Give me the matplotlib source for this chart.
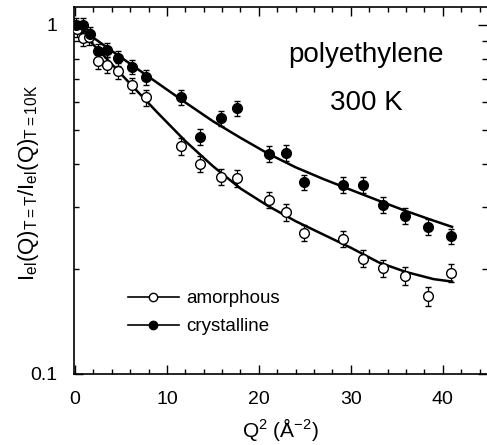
import matplotlib
matplotlib.use("Agg")
import matplotlib.pyplot as plt
from matplotlib.lines import Line2D
from matplotlib.ticker import FixedLocator, NullFormatter, MultipleLocator

plt.rcParams['font.family'] = ['Liberation Sans', 'DejaVu Sans']
plt.rcParams['mathtext.fontset'] = 'custom'
plt.rcParams['mathtext.rm'] = 'Liberation Sans'
plt.rcParams['mathtext.it'] = 'Liberation Sans'

# crystalline (filled)
q2_cry = [0.1, 0.9, 1.6, 2.5, 3.5, 4.7, 6.2, 7.7, 11.5, 13.6, 15.9, 17.6,
          21.1, 23.0, 24.9, 29.1, 31.3, 33.5, 35.9, 38.4, 40.9]
i_cry = [1.00, 1.00, 0.94, 0.84, 0.85, 0.805, 0.76, 0.71, 0.62, 0.477, 0.54, 0.577,
         0.427, 0.43, 0.354, 0.348, 0.349, 0.305, 0.284, 0.264, 0.248]
err_cry = [0.05, 0.05, 0.045, 0.04, 0.04, 0.04, 0.035, 0.035, 0.03, 0.025, 0.028, 0.03,
           0.022, 0.022, 0.018, 0.018, 0.018, 0.016, 0.015, 0.014, 0.013]

# amorphous (open)
q2_am = [0.2, 0.9, 1.5, 2.5, 3.5, 4.7, 6.2, 7.7, 11.5, 13.6, 15.9, 17.6,
         21.1, 23.0, 24.9, 29.1, 31.3, 33.5, 35.9, 38.4, 40.9]
i_am = [0.975, 0.92, 0.925, 0.79, 0.77, 0.74, 0.672, 0.62, 0.45, 0.40, 0.367, 0.364,
        0.315, 0.291, 0.254, 0.244, 0.214, 0.201, 0.191, 0.167, 0.195]
err_am = [0.05, 0.048, 0.048, 0.042, 0.04, 0.04, 0.035, 0.033, 0.025, 0.022, 0.02, 0.02,
          0.017, 0.016, 0.014, 0.013, 0.012, 0.011, 0.011, 0.01, 0.011]

# fitted curves
fit_q2_cry = [0.2, 4, 8, 12, 15, 18, 21, 24, 27, 30, 33, 36, 39, 41]
fit_i_cry = [0.995, 0.843, 0.711, 0.600, 0.530, 0.475, 0.428, 0.391, 0.362,
             0.337, 0.314, 0.293, 0.275, 0.264]
fit_q2_am = [0.2, 3, 6, 9, 12, 15, 18, 21, 24, 27, 30, 33, 36, 39, 41]
fit_i_am = [0.985, 0.824, 0.679, 0.560, 0.465, 0.394, 0.340, 0.303, 0.274,
            0.251, 0.230, 0.209, 0.196, 0.187, 0.184]

fig = plt.figure(figsize=(4.87, 4.45), dpi=100)
ax = fig.add_axes([74/487, 71/445, 413/487, 367/445])

ax.plot(fit_q2_cry, fit_i_cry, color='black', lw=1.8, zorder=2)
ax.plot(fit_q2_am, fit_i_am, color='black', lw=1.8, zorder=2)

ax.errorbar(q2_am, i_am, yerr=err_am, fmt='o', mfc='white', mec='black', ms=7,
            mew=1.0, ecolor='black', elinewidth=0.9, capsize=2.5, capthick=0.9, zorder=3)
ax.errorbar(q2_cry, i_cry, yerr=err_cry, fmt='o', mfc='black', mec='black', ms=7,
            mew=1.0, ecolor='black', elinewidth=0.9, capsize=2.5, capthick=0.9, zorder=3)

ax.set_yscale('log')
ax.set_xlim(-0.1, 44.8)
ax.set_ylim(0.1, 1.126)

ax.xaxis.set_major_locator(MultipleLocator(10))
ax.xaxis.set_minor_locator(MultipleLocator(2))
ax.yaxis.set_major_locator(FixedLocator([0.1, 1]))
ax.yaxis.set_minor_locator(FixedLocator([0.2, 0.3, 0.4, 0.5, 0.6, 0.7, 0.8, 0.9]))
ax.set_yticklabels(['0.1', '1'])
ax.yaxis.set_minor_formatter(NullFormatter())

ax.tick_params(which='both', direction='in', top=True, right=True, labelsize=14, width=1)
ax.tick_params(which='major', length=6.5, pad=12)
ax.tick_params(which='minor', length=3.5)
ax.spines['right'].set_visible(False)
for s in ['left', 'bottom', 'top']:
    ax.spines[s].set_linewidth(1.2)

ax.set_xlabel(r'Q$^{\mathregular{2}}$ (Å$^{\mathregular{-2}}$)', fontsize=15, labelpad=6)
ax.set_ylabel(r'$\mathregular{I_{el}(Q)_{T=T}/I_{el}(Q)_{T=10K}}$', fontsize=16)
ax.yaxis.set_label_coords(-0.08, 0.52)

ax.text(0.707, 0.85, 'polyethylene', transform=ax.transAxes, ha='center',
        va='baseline', fontsize=20)
ax.text(0.707, 0.719, '300 K', transform=ax.transAxes, ha='center',
        va='baseline', fontsize=20)

handles = [
    Line2D([], [], color='black', lw=1.2, marker='o', mfc='white', mec='black', ms=6),
    Line2D([], [], color='black', lw=1.2, marker='o', mfc='black', mec='black', ms=6),
]
ax.legend(handles, ['amorphous', 'crystalline'], loc='upper left',
          bbox_to_anchor=(0.131, 0.229), frameon=False, fontsize=13.5,
          handlelength=2.7, handletextpad=0.4, labelspacing=0.6,
          borderpad=0, borderaxespad=0)

fig.savefig('out.png', dpi=100)
